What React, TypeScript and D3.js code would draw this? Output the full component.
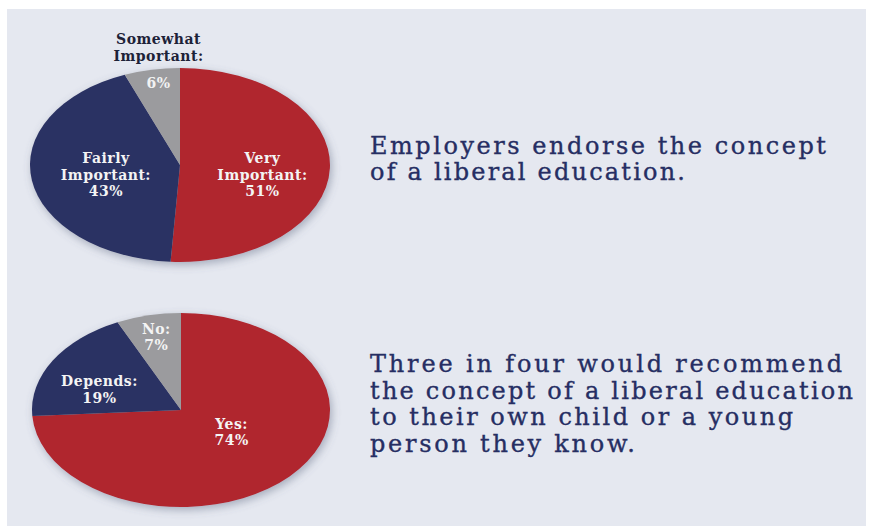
import React from "react";
import * as d3 from "d3";

const topCategories = ["Very Important", "Fairly Important", "Somewhat Important"];
const topValues = [51, 43, 6];
const bottomCategories = ["Yes", "Depends", "No"];
const bottomValues = [74, 19, 7];
const sliceColors = ["#b0262f", "#2b3163", "#9b9b9e"];
const topCaption = ["Employers endorse the concept", "of a liberal education."];
const bottomCaption = [
  "Three in four would recommend",
  "the concept of a liberal education",
  "to their own child or a young",
  "person they know.",
];

const W = 869;
const H = 526;

type LabelSpec = { k: number; dx: number; dy: number; outside?: boolean };

const labelStyle = {
  fontFamily: "'DejaVu Serif', serif",
  fontWeight: 700,
  fontSize: 14,
  letterSpacing: 0.5,
} as React.CSSProperties;

function Pie({
  cx, cy, rx, ry, categories, values, labelSpecs, id,
}: {
  cx: number; cy: number; rx: number; ry: number;
  categories: string[]; values: number[]; labelSpecs: LabelSpec[]; id: string;
}) {
  const pie = d3.pie<number>().sort(null).startAngle(0).endAngle(2 * Math.PI);
  const arcs = pie(values);
  const arc = d3.arc<d3.PieArcDatum<number>>().innerRadius(0).outerRadius(rx);
  const sy = ry / rx;
  const lineH = 16.5;
  return (
    <g>
      <g transform={`translate(${cx},${cy})`} filter={`url(#${id})`}>
        <g transform={`scale(1,${sy})`}>
          {arcs.map((a, i) => (
            <path key={i} d={arc(a) || ""} fill={sliceColors[i]} />
          ))}
        </g>
      </g>
      {arcs.map((a, i) => {
        const spec = labelSpecs[i];
        const mid = (a.startAngle + a.endAngle) / 2;
        const x = cx + Math.sin(mid) * rx * spec.k + spec.dx;
        const y = cy - Math.cos(mid) * ry * spec.k + spec.dy;
        const words = categories[i].split(" ");
        const pct = `${values[i]}%`;
        if (spec.outside) {
          const nameTop = cy - ry - 7 - (words.length - 1) * 17;
          return (
            <g key={i}>
              <text x={x} y={y} textAnchor="middle" fill="#f2f2f2" style={labelStyle}>{pct}</text>
              {words.map((w, j) => (
                <text key={j} x={x} y={nameTop + j * 17}
                  textAnchor="middle" fill="#1d2238" style={labelStyle}>
                  {j < words.length - 1 ? w : w + ":"}
                </text>
              ))}
            </g>
          );
        }
        const lines = [...words.slice(0, -1), words[words.length - 1] + ":", pct];
        const y0 = y - ((lines.length - 1) * lineH) / 2;
        return (
          <g key={i}>
            {lines.map((l, j) => (
              <text key={j} x={x} y={y0 + j * lineH} textAnchor="middle"
                fill="#f4f4f4" style={labelStyle}>{l}</text>
            ))}
          </g>
        );
      })}
    </g>
  );
}

function Caption({ lines, x, y0, lh, widths }: { lines: string[]; x: number; y0: number; lh: number; widths: number[] }) {
  return (
    <g>
      {lines.map((l, i) => (
        <text key={i} x={x} y={y0 + i * lh} textLength={widths[i]} lengthAdjust="spacing"
          fill="#262e63" stroke="#262e63" strokeWidth={0.35}
          style={{ fontFamily: "'DejaVu Serif', serif", fontSize: 24 }}>{l}</text>
      ))}
    </g>
  );
}

export default function App() {
  return (
    <svg width={W} height={H} style={{ position: "absolute", left: 0, top: 0, background: "#ffffff" }}>
      <defs>
        {["shTop", "shBot"].map((id) => (
          <filter key={id} id={id} x="-20%" y="-30%" width="140%" height="160%">
            <feDropShadow dx={2} dy={3} stdDeviation={4} floodColor="#59607a" floodOpacity={0.45} />
          </filter>
        ))}
      </defs>
      <rect x={7} y={9} width={859} height={517} fill="#e5e8f0" />
      <Pie id="shTop" cx={180} cy={165} rx={150} ry={97}
        categories={topCategories} values={topValues}
        labelSpecs={[
          { k: 0.55, dx: 0, dy: 13 },
          { k: 0.5, dx: 0, dy: 7 },
          { k: 0.8, dx: 1, dy: -1, outside: true },
        ]} />
      <Pie id="shBot" cx={181} cy={410} rx={149} ry={97}
        categories={bottomCategories} values={bottomValues}
        labelSpecs={[
          { k: 0.42, dx: 5, dy: -1 },
          { k: 0.62, dx: -2, dy: 15 },
          { k: 0.76, dx: 0, dy: 4 },
        ]} />
      <Caption lines={topCaption} x={370} y0={154} lh={26} widths={[456, 315]} />
      <Caption lines={bottomCaption} x={370} y0={372} lh={26.7} widths={[472, 483, 423, 265]} />
    </svg>
  );
}
